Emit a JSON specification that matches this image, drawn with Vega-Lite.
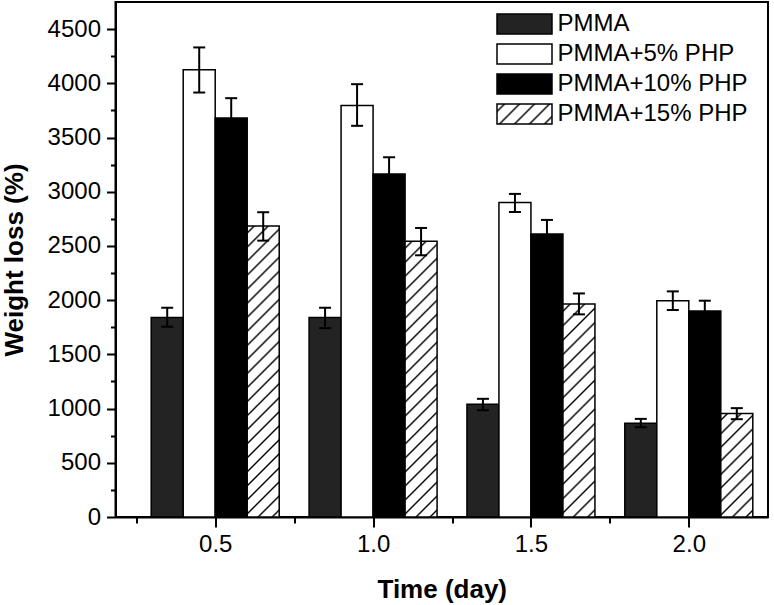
{
  "$schema": "https://vega.github.io/schema/vega-lite/v6.json",
  "autosize": {"type": "none"},
  "padding": {"left": 115.5, "top": 2, "right": 6, "bottom": 88},
  "width": 652.5,
  "height": 515,
  "background": "#ffffff",
  "config": {
    "view": {"stroke": "#000000", "strokeWidth": 2},
    "font": "Liberation Sans"
  },
  "data": {"values": [
    {"time": 0.5, "series": "PMMA", "value": 1841, "lo": 1755, "hi": 1930},
    {"time": 0.5, "series": "PMMA+5% PHP", "value": 4124, "lo": 3915, "hi": 4331},
    {"time": 0.5, "series": "PMMA+10% PHP", "value": 3681, "lo": 3496, "hi": 3863},
    {"time": 0.5, "series": "PMMA+15% PHP", "value": 2684, "lo": 2549, "hi": 2811},
    {"time": 1.0, "series": "PMMA", "value": 1841, "lo": 1742, "hi": 1930},
    {"time": 1.0, "series": "PMMA+5% PHP", "value": 3795, "lo": 3608, "hi": 3992},
    {"time": 1.0, "series": "PMMA+10% PHP", "value": 3164, "lo": 3010, "hi": 3318},
    {"time": 1.0, "series": "PMMA+15% PHP", "value": 2543, "lo": 2414, "hi": 2666},
    {"time": 1.5, "series": "PMMA", "value": 1041, "lo": 985, "hi": 1090},
    {"time": 1.5, "series": "PMMA+5% PHP", "value": 2900, "lo": 2813, "hi": 2980},
    {"time": 1.5, "series": "PMMA+10% PHP", "value": 2610, "lo": 2480, "hi": 2740},
    {"time": 1.5, "series": "PMMA+15% PHP", "value": 1964, "lo": 1869, "hi": 2062},
    {"time": 2.0, "series": "PMMA", "value": 865, "lo": 828, "hi": 905},
    {"time": 2.0, "series": "PMMA+5% PHP", "value": 1995, "lo": 1909, "hi": 2081},
    {"time": 2.0, "series": "PMMA+10% PHP", "value": 1899, "lo": 1803, "hi": 1995},
    {"time": 2.0, "series": "PMMA+15% PHP", "value": 955, "lo": 902, "hi": 1004}
  ]},
  "encoding": {
    "x": {
      "field": "time", "type": "quantitative",
      "scale": {"domain": [0.2, 2.235], "nice": false, "zero": false},
      "axis": {
        "title": "Time (day)",
        "values": [0.25, 0.5, 0.75, 1.0, 1.25, 1.5, 1.75, 2.0],
        "labelExpr": "datum.value * 4 % 2 === 0 ? format(datum.value, '.1f') : ''",
        "tickSize": {"condition": {"test": "datum.value * 4 % 2 === 0", "value": 10}, "value": 6},
        "tickWidth": 2, "tickColor": "#000000",
        "domainWidth": 2, "domainColor": "#000000",
        "grid": false,
        "labelFont": "Liberation Sans", "labelFontSize": 24, "labelColor": "#000000",
        "labelPadding": 5, "labelFlush": false, "labelOverlap": false,
        "titleFont": "Liberation Sans", "titleFontSize": 26, "titleFontWeight": "bold",
        "titleColor": "#000000", "titlePadding": 20
      }
    },
    "y": {
      "field": "value", "type": "quantitative",
      "scale": {"domain": [0, 4750], "nice": false},
      "title": "Weight loss (%)",
      "axis": {
        "values": [0, 250, 500, 750, 1000, 1250, 1500, 1750, 2000, 2250, 2500, 2750, 3000, 3250, 3500, 3750, 4000, 4250, 4500],
        "labelExpr": "datum.value % 500 === 0 ? format(datum.value, 'd') : ''",
        "tickSize": {"condition": {"test": "datum.value % 500 === 0", "value": 9}, "value": 5},
        "tickWidth": 2, "tickColor": "#000000",
        "domainWidth": 2, "domainColor": "#000000",
        "grid": false,
        "labelFont": "Liberation Sans", "labelFontSize": 24, "labelColor": "#000000",
        "labelPadding": 6, "labelOverlap": false,
        "titleFont": "Liberation Sans", "titleFontSize": 26, "titleFontWeight": "bold",
        "titleColor": "#000000", "titlePadding": 20
      }
    }
  },
  "layer": [
    {
      "transform": [{"filter": "datum.series === 'PMMA'"}],
      "mark": {"type": "bar", "width": 32, "xOffset": -48, "stroke": "#000000", "strokeWidth": 1.5},
      "encoding": {
        "fill": {
          "field": "series", "type": "nominal",
          "scale": {"domain": ["PMMA", "PMMA+5% PHP", "PMMA+10% PHP", "PMMA+15% PHP"], "range": ["#232323", "#ffffff", "#000000", {"expr": "{gradient: 'linear', x1: 0, y1: 0, x2: 1.2044, y2: 0.438, stops: [{offset: 0.073, color: '#fff'}, {offset: 0.1, color: '#000'}, {offset: 0.127, color: '#fff'}, {offset: 0.273, color: '#fff'}, {offset: 0.3, color: '#000'}, {offset: 0.327, color: '#fff'}, {offset: 0.473, color: '#fff'}, {offset: 0.5, color: '#000'}, {offset: 0.527, color: '#fff'}, {offset: 0.673, color: '#fff'}, {offset: 0.7, color: '#000'}, {offset: 0.727, color: '#fff'}, {offset: 0.873, color: '#fff'}, {offset: 0.9, color: '#000'}, {offset: 0.927, color: '#fff'}]}"}]},
          "legend": {
            "orient": "none", "legendX": 380, "legendY": 10, "title": null, "padding": 0,
            "symbolType": "M-2.75,-1H2.75V1H-2.75Z", "symbolSize": 400,
            "symbolStrokeColor": "#000000", "symbolStrokeWidth": 1.5, "symbolOffset": 17,
            "labelFont": "Liberation Sans", "labelFontSize": 24, "labelColor": "#000000",
            "labelOffset": 21, "labelLimit": 400, "rowPadding": 4,
            "encode": {"symbols": {"update": {
              "stroke": {"value": "#000000"},
              "strokeWidth": {"value": 1.5},
              "opacity": {"value": 1}
            }}}
          }
        }
      }
    },
    {
      "transform": [{"filter": "datum.series === 'PMMA+5% PHP'"}],
      "mark": {"type": "bar", "width": 32, "xOffset": -16, "stroke": "#000000", "strokeWidth": 1.5},
      "encoding": {
        "fill": {"field": "series", "type": "nominal", "legend": null}
      }
    },
    {
      "transform": [{"filter": "datum.series === 'PMMA+10% PHP'"}],
      "mark": {"type": "bar", "width": 32, "xOffset": 16, "stroke": "#000000", "strokeWidth": 1.5},
      "encoding": {
        "fill": {"field": "series", "type": "nominal", "legend": null}
      }
    },
    {
      "transform": [{"filter": "datum.series === 'PMMA+15% PHP' && datum.time === 0.5"}],
      "mark": {"type": "bar", "width": 32, "xOffset": 48, "stroke": "#000000", "strokeWidth": 1.5,
        "fill": {"gradient": "linear", "x1": 0, "y1": 0, "x2": 0.1206, "y2": 1.0967, "stops": [
          {"offset": 0.0155, "color": "#fff"}, {"offset": 0.0217, "color": "#000"}, {"offset": 0.0279, "color": "#fff"},
          {"offset": 0.0590, "color": "#fff"}, {"offset": 0.0652, "color": "#000"}, {"offset": 0.0714, "color": "#fff"},
          {"offset": 0.1025, "color": "#fff"}, {"offset": 0.1087, "color": "#000"}, {"offset": 0.1149, "color": "#fff"},
          {"offset": 0.1460, "color": "#fff"}, {"offset": 0.1522, "color": "#000"}, {"offset": 0.1584, "color": "#fff"},
          {"offset": 0.1895, "color": "#fff"}, {"offset": 0.1957, "color": "#000"}, {"offset": 0.2019, "color": "#fff"},
          {"offset": 0.2329, "color": "#fff"}, {"offset": 0.2391, "color": "#000"}, {"offset": 0.2453, "color": "#fff"},
          {"offset": 0.2764, "color": "#fff"}, {"offset": 0.2826, "color": "#000"}, {"offset": 0.2888, "color": "#fff"},
          {"offset": 0.3199, "color": "#fff"}, {"offset": 0.3261, "color": "#000"}, {"offset": 0.3323, "color": "#fff"},
          {"offset": 0.3634, "color": "#fff"}, {"offset": 0.3696, "color": "#000"}, {"offset": 0.3758, "color": "#fff"},
          {"offset": 0.4068, "color": "#fff"}, {"offset": 0.4130, "color": "#000"}, {"offset": 0.4192, "color": "#fff"},
          {"offset": 0.4503, "color": "#fff"}, {"offset": 0.4565, "color": "#000"}, {"offset": 0.4627, "color": "#fff"},
          {"offset": 0.4938, "color": "#fff"}, {"offset": 0.5000, "color": "#000"}, {"offset": 0.5062, "color": "#fff"},
          {"offset": 0.5373, "color": "#fff"}, {"offset": 0.5435, "color": "#000"}, {"offset": 0.5497, "color": "#fff"},
          {"offset": 0.5808, "color": "#fff"}, {"offset": 0.5870, "color": "#000"}, {"offset": 0.5932, "color": "#fff"},
          {"offset": 0.6242, "color": "#fff"}, {"offset": 0.6304, "color": "#000"}, {"offset": 0.6366, "color": "#fff"},
          {"offset": 0.6677, "color": "#fff"}, {"offset": 0.6739, "color": "#000"}, {"offset": 0.6801, "color": "#fff"},
          {"offset": 0.7112, "color": "#fff"}, {"offset": 0.7174, "color": "#000"}, {"offset": 0.7236, "color": "#fff"},
          {"offset": 0.7547, "color": "#fff"}, {"offset": 0.7609, "color": "#000"}, {"offset": 0.7671, "color": "#fff"},
          {"offset": 0.7981, "color": "#fff"}, {"offset": 0.8043, "color": "#000"}, {"offset": 0.8105, "color": "#fff"},
          {"offset": 0.8416, "color": "#fff"}, {"offset": 0.8478, "color": "#000"}, {"offset": 0.8540, "color": "#fff"},
          {"offset": 0.8851, "color": "#fff"}, {"offset": 0.8913, "color": "#000"}, {"offset": 0.8975, "color": "#fff"},
          {"offset": 0.9286, "color": "#fff"}, {"offset": 0.9348, "color": "#000"}, {"offset": 0.9410, "color": "#fff"},
          {"offset": 0.9721, "color": "#fff"}, {"offset": 0.9783, "color": "#000"}, {"offset": 0.9845, "color": "#fff"}
        ]}},
      "encoding": {}
    },
    {
      "transform": [{"filter": "datum.series === 'PMMA+15% PHP' && datum.time === 1.0"}],
      "mark": {"type": "bar", "width": 32, "xOffset": 48, "stroke": "#000000", "strokeWidth": 1.5,
        "fill": {"gradient": "linear", "x1": 0, "y1": 0, "x2": 0.1278, "y2": 1.1012, "stops": [
          {"offset": 0.0162, "color": "#fff"}, {"offset": 0.0227, "color": "#000"}, {"offset": 0.0292, "color": "#fff"},
          {"offset": 0.0617, "color": "#fff"}, {"offset": 0.0682, "color": "#000"}, {"offset": 0.0747, "color": "#fff"},
          {"offset": 0.1071, "color": "#fff"}, {"offset": 0.1136, "color": "#000"}, {"offset": 0.1201, "color": "#fff"},
          {"offset": 0.1526, "color": "#fff"}, {"offset": 0.1591, "color": "#000"}, {"offset": 0.1656, "color": "#fff"},
          {"offset": 0.1980, "color": "#fff"}, {"offset": 0.2045, "color": "#000"}, {"offset": 0.2110, "color": "#fff"},
          {"offset": 0.2435, "color": "#fff"}, {"offset": 0.2500, "color": "#000"}, {"offset": 0.2565, "color": "#fff"},
          {"offset": 0.2890, "color": "#fff"}, {"offset": 0.2955, "color": "#000"}, {"offset": 0.3020, "color": "#fff"},
          {"offset": 0.3344, "color": "#fff"}, {"offset": 0.3409, "color": "#000"}, {"offset": 0.3474, "color": "#fff"},
          {"offset": 0.3799, "color": "#fff"}, {"offset": 0.3864, "color": "#000"}, {"offset": 0.3929, "color": "#fff"},
          {"offset": 0.4253, "color": "#fff"}, {"offset": 0.4318, "color": "#000"}, {"offset": 0.4383, "color": "#fff"},
          {"offset": 0.4708, "color": "#fff"}, {"offset": 0.4773, "color": "#000"}, {"offset": 0.4838, "color": "#fff"},
          {"offset": 0.5162, "color": "#fff"}, {"offset": 0.5227, "color": "#000"}, {"offset": 0.5292, "color": "#fff"},
          {"offset": 0.5617, "color": "#fff"}, {"offset": 0.5682, "color": "#000"}, {"offset": 0.5747, "color": "#fff"},
          {"offset": 0.6071, "color": "#fff"}, {"offset": 0.6136, "color": "#000"}, {"offset": 0.6201, "color": "#fff"},
          {"offset": 0.6526, "color": "#fff"}, {"offset": 0.6591, "color": "#000"}, {"offset": 0.6656, "color": "#fff"},
          {"offset": 0.6980, "color": "#fff"}, {"offset": 0.7045, "color": "#000"}, {"offset": 0.7110, "color": "#fff"},
          {"offset": 0.7435, "color": "#fff"}, {"offset": 0.7500, "color": "#000"}, {"offset": 0.7565, "color": "#fff"},
          {"offset": 0.7890, "color": "#fff"}, {"offset": 0.7955, "color": "#000"}, {"offset": 0.8020, "color": "#fff"},
          {"offset": 0.8344, "color": "#fff"}, {"offset": 0.8409, "color": "#000"}, {"offset": 0.8474, "color": "#fff"},
          {"offset": 0.8799, "color": "#fff"}, {"offset": 0.8864, "color": "#000"}, {"offset": 0.8929, "color": "#fff"},
          {"offset": 0.9253, "color": "#fff"}, {"offset": 0.9318, "color": "#000"}, {"offset": 0.9383, "color": "#fff"},
          {"offset": 0.9708, "color": "#fff"}, {"offset": 0.9773, "color": "#000"}, {"offset": 0.9838, "color": "#fff"}
        ]}},
      "encoding": {}
    },
    {
      "transform": [{"filter": "datum.series === 'PMMA+15% PHP' && datum.time === 1.5"}],
      "mark": {"type": "bar", "width": 32, "xOffset": 48, "stroke": "#000000", "strokeWidth": 1.5,
        "fill": {"gradient": "linear", "x1": 0, "y1": 0, "x2": 0.1691, "y2": 1.1249, "stops": [
          {"offset": 0.0212, "color": "#fff"}, {"offset": 0.0294, "color": "#000"}, {"offset": 0.0376, "color": "#fff"},
          {"offset": 0.0800, "color": "#fff"}, {"offset": 0.0882, "color": "#000"}, {"offset": 0.0964, "color": "#fff"},
          {"offset": 0.1389, "color": "#fff"}, {"offset": 0.1471, "color": "#000"}, {"offset": 0.1553, "color": "#fff"},
          {"offset": 0.1977, "color": "#fff"}, {"offset": 0.2059, "color": "#000"}, {"offset": 0.2141, "color": "#fff"},
          {"offset": 0.2565, "color": "#fff"}, {"offset": 0.2647, "color": "#000"}, {"offset": 0.2729, "color": "#fff"},
          {"offset": 0.3153, "color": "#fff"}, {"offset": 0.3235, "color": "#000"}, {"offset": 0.3317, "color": "#fff"},
          {"offset": 0.3742, "color": "#fff"}, {"offset": 0.3824, "color": "#000"}, {"offset": 0.3906, "color": "#fff"},
          {"offset": 0.4330, "color": "#fff"}, {"offset": 0.4412, "color": "#000"}, {"offset": 0.4494, "color": "#fff"},
          {"offset": 0.4918, "color": "#fff"}, {"offset": 0.5000, "color": "#000"}, {"offset": 0.5082, "color": "#fff"},
          {"offset": 0.5506, "color": "#fff"}, {"offset": 0.5588, "color": "#000"}, {"offset": 0.5670, "color": "#fff"},
          {"offset": 0.6094, "color": "#fff"}, {"offset": 0.6176, "color": "#000"}, {"offset": 0.6258, "color": "#fff"},
          {"offset": 0.6683, "color": "#fff"}, {"offset": 0.6765, "color": "#000"}, {"offset": 0.6847, "color": "#fff"},
          {"offset": 0.7271, "color": "#fff"}, {"offset": 0.7353, "color": "#000"}, {"offset": 0.7435, "color": "#fff"},
          {"offset": 0.7859, "color": "#fff"}, {"offset": 0.7941, "color": "#000"}, {"offset": 0.8023, "color": "#fff"},
          {"offset": 0.8447, "color": "#fff"}, {"offset": 0.8529, "color": "#000"}, {"offset": 0.8611, "color": "#fff"},
          {"offset": 0.9036, "color": "#fff"}, {"offset": 0.9118, "color": "#000"}, {"offset": 0.9200, "color": "#fff"},
          {"offset": 0.9624, "color": "#fff"}, {"offset": 0.9706, "color": "#000"}, {"offset": 0.9788, "color": "#fff"}
        ]}},
      "encoding": {}
    },
    {
      "transform": [{"filter": "datum.series === 'PMMA+15% PHP' && datum.time === 2.0"}],
      "mark": {"type": "bar", "width": 32, "xOffset": 48, "stroke": "#000000", "strokeWidth": 1.5,
        "fill": {"gradient": "linear", "x1": 0, "y1": 0, "x2": 0.3695, "y2": 1.195, "stops": [
          {"offset": 0.035, "color": "#fff"}, {"offset": 0.05, "color": "#000"}, {"offset": 0.065, "color": "#fff"},
          {"offset": 0.135, "color": "#fff"}, {"offset": 0.15, "color": "#000"}, {"offset": 0.165, "color": "#fff"},
          {"offset": 0.235, "color": "#fff"}, {"offset": 0.25, "color": "#000"}, {"offset": 0.265, "color": "#fff"},
          {"offset": 0.335, "color": "#fff"}, {"offset": 0.35, "color": "#000"}, {"offset": 0.365, "color": "#fff"},
          {"offset": 0.435, "color": "#fff"}, {"offset": 0.45, "color": "#000"}, {"offset": 0.465, "color": "#fff"},
          {"offset": 0.535, "color": "#fff"}, {"offset": 0.55, "color": "#000"}, {"offset": 0.565, "color": "#fff"},
          {"offset": 0.635, "color": "#fff"}, {"offset": 0.65, "color": "#000"}, {"offset": 0.665, "color": "#fff"},
          {"offset": 0.735, "color": "#fff"}, {"offset": 0.75, "color": "#000"}, {"offset": 0.765, "color": "#fff"},
          {"offset": 0.835, "color": "#fff"}, {"offset": 0.85, "color": "#000"}, {"offset": 0.865, "color": "#fff"},
          {"offset": 0.935, "color": "#fff"}, {"offset": 0.95, "color": "#000"}, {"offset": 0.965, "color": "#fff"}
        ]}},
      "encoding": {}
    },
    {
      "transform": [{"filter": "datum.series === 'PMMA'"}],
      "layer": [
        {"mark": {"type": "rule", "xOffset": -48, "color": "#000000", "strokeWidth": 2},
         "encoding": {"y": {"field": "lo", "type": "quantitative", "title": "Weight loss (%)"}, "y2": {"field": "hi"}}},
        {"mark": {"type": "tick", "orient": "horizontal", "xOffset": -48, "size": 12, "thickness": 2, "color": "#000000", "opacity": 1},
         "encoding": {"y": {"field": "lo", "type": "quantitative", "title": "Weight loss (%)"}}},
        {"mark": {"type": "tick", "orient": "horizontal", "xOffset": -48, "size": 12, "thickness": 2, "color": "#000000", "opacity": 1},
         "encoding": {"y": {"field": "hi", "type": "quantitative", "title": "Weight loss (%)"}}}
      ]
    },
    {
      "transform": [{"filter": "datum.series === 'PMMA+5% PHP'"}],
      "layer": [
        {"mark": {"type": "rule", "xOffset": -16, "color": "#000000", "strokeWidth": 2},
         "encoding": {"y": {"field": "lo", "type": "quantitative", "title": "Weight loss (%)"}, "y2": {"field": "hi"}}},
        {"mark": {"type": "tick", "orient": "horizontal", "xOffset": -16, "size": 12, "thickness": 2, "color": "#000000", "opacity": 1},
         "encoding": {"y": {"field": "lo", "type": "quantitative", "title": "Weight loss (%)"}}},
        {"mark": {"type": "tick", "orient": "horizontal", "xOffset": -16, "size": 12, "thickness": 2, "color": "#000000", "opacity": 1},
         "encoding": {"y": {"field": "hi", "type": "quantitative", "title": "Weight loss (%)"}}}
      ]
    },
    {
      "transform": [{"filter": "datum.series === 'PMMA+10% PHP'"}],
      "layer": [
        {"mark": {"type": "rule", "xOffset": 16, "color": "#000000", "strokeWidth": 2},
         "encoding": {"y": {"field": "lo", "type": "quantitative", "title": "Weight loss (%)"}, "y2": {"field": "hi"}}},
        {"mark": {"type": "tick", "orient": "horizontal", "xOffset": 16, "size": 12, "thickness": 2, "color": "#000000", "opacity": 1},
         "encoding": {"y": {"field": "lo", "type": "quantitative", "title": "Weight loss (%)"}}},
        {"mark": {"type": "tick", "orient": "horizontal", "xOffset": 16, "size": 12, "thickness": 2, "color": "#000000", "opacity": 1},
         "encoding": {"y": {"field": "hi", "type": "quantitative", "title": "Weight loss (%)"}}}
      ]
    },
    {
      "transform": [{"filter": "datum.series === 'PMMA+15% PHP'"}],
      "layer": [
        {"mark": {"type": "rule", "xOffset": 48, "color": "#000000", "strokeWidth": 2},
         "encoding": {"y": {"field": "lo", "type": "quantitative", "title": "Weight loss (%)"}, "y2": {"field": "hi"}}},
        {"mark": {"type": "tick", "orient": "horizontal", "xOffset": 48, "size": 12, "thickness": 2, "color": "#000000", "opacity": 1},
         "encoding": {"y": {"field": "lo", "type": "quantitative", "title": "Weight loss (%)"}}},
        {"mark": {"type": "tick", "orient": "horizontal", "xOffset": 48, "size": 12, "thickness": 2, "color": "#000000", "opacity": 1},
         "encoding": {"y": {"field": "hi", "type": "quantitative", "title": "Weight loss (%)"}}}
      ]
    }
  ]
}
